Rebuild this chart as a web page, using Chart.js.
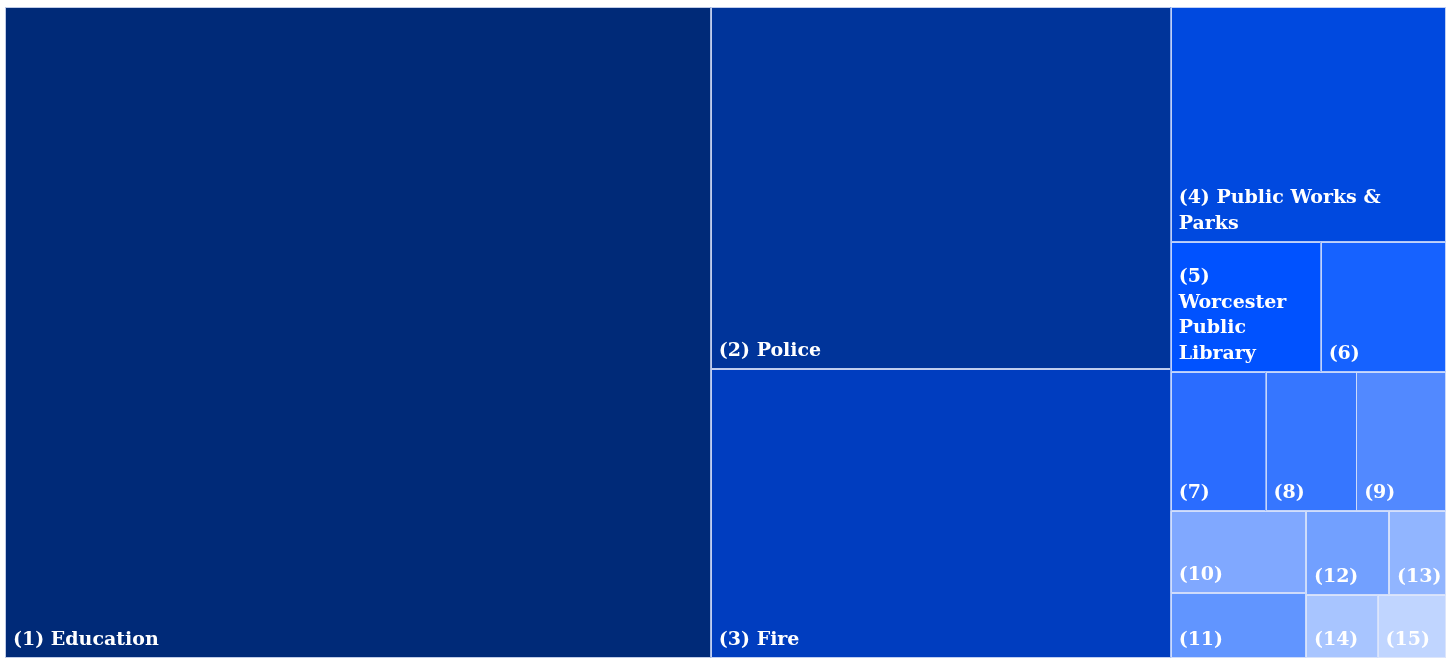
<!DOCTYPE html>
<html>
<head>
<meta charset="utf-8">
<title>Treemap</title>
<script src="https://cdn.jsdelivr.net/npm/chart.js@4.4.1/dist/chart.umd.min.js"></script>
<style>
  html, body { margin: 0; padding: 0; background: #fff; }
  #wrap { width: 1450px; height: 661px; }
</style>
</head>
<body>
<div id="wrap"><canvas id="chart"></canvas></div>
<script>
// items, already in rank order (largest first)
const ranks = [1, 2, 3, 4, 5, 6, 7, 8, 9, 10, 11, 12, 13, 14, 15];
const names = ['Education', 'Police', 'Fire', 'Public Works & Parks', 'Worcester Public Library',
  '', '', '', '', '', '', '', '', '', ''];
const values = [459.6, 166.5, 132.9, 64.7, 19.5, 16.3, 13.2, 12.6, 12.5, 11.1, 8.8, 7.0, 4.8, 4.5, 4.3];
const colors = ['#002a78', '#00349a', '#003dbf', '#0049df', '#0052ff', '#1662ff', '#2a6cff', '#3676ff',
  '#5289ff', '#80a8ff', '#6195ff', '#72a0ff', '#91b5ff', '#a8c5ff', '#c0d5ff'];

// ordered treemap (pivot by size), rects in the same units as w/h
function pivotLayout(idx, x, y, w, h, out) {
  if (!idx.length) return;
  if (idx.length === 1) {
    out[idx[0]] = { x, y, w, h };
    return;
  }
  const total = idx.reduce((s, i) => s + values[i], 0);
  const scale = w * h / total;
  const wide = w >= h;
  const p = idx[0];
  let best = Infinity, bestK = 0, sum = 0;
  for (let k = 0; k < idx.length; k++) {
    sum += values[idx[k]];
    const strip = sum * scale / (wide ? h : w);
    const len = values[p] * scale / strip;
    const r = Math.max(strip / len, len / strip);
    if (r < best) { best = r; bestK = k; }
  }
  let s = 0;
  for (let k = 0; k <= bestK; k++) s += values[idx[k]];
  const strip = s * scale / (wide ? h : w);
  const len = values[p] * scale / strip;
  const l2 = idx.slice(1, bestK + 1);
  const l3 = idx.slice(bestK + 1);
  if (wide) {
    out[p] = { x, y, w: strip, h: len };
    pivotLayout(l2, x, y + len, strip, h - len, out);
    pivotLayout(l3, x + strip, y, w - strip, h, out);
  } else {
    out[p] = { x, y, w: len, h: strip };
    pivotLayout(l2, x + len, y, w - len, strip, out);
    pivotLayout(l3, x, y + strip, w, h - strip, out);
  }
}

function wrapText(ctx, text, maxWidth) {
  const words = text.split(' ');
  const lines = [];
  let line = '';
  words.forEach(word => {
    const test = line ? line + ' ' + word : word;
    if (line && ctx.measureText(test).width > maxWidth) {
      lines.push(line);
      line = word;
    } else {
      line = test;
    }
  });
  if (line) lines.push(line);
  return lines;
}

const treemapPlugin = {
  id: 'treemapPlugin',
  afterDatasetsDraw(chart) {
    const ctx = chart.ctx;
    const area = chart.chartArea;
    const xs = chart.scales.x;
    const ys = chart.scales.y;
    const W = area.right - area.left;
    const H = area.bottom - area.top;

    const rects = [];
    pivotLayout(values.map((v, i) => i), 0, 0, W, H, rects);

    ctx.save();
    rects.forEach((r, i) => {
      // layout units -> scale values (0..100) -> pixels
      const left = xs.getPixelForValue(r.x / W * 100);
      const right = xs.getPixelForValue((r.x + r.w) / W * 100);
      const top = ys.getPixelForValue(r.y / H * 100);
      const bottom = ys.getPixelForValue((r.y + r.h) / H * 100);

      ctx.fillStyle = colors[i];
      ctx.fillRect(left, top, right - left, bottom - top);
      ctx.strokeStyle = 'rgba(225,232,250,0.85)';
      ctx.lineWidth = 1;
      ctx.strokeRect(Math.round(left) + 0.5, Math.round(top) + 0.5,
        Math.round(right - left) - 1, Math.round(bottom - top) - 1);

      const label = names[i] ? '(' + ranks[i] + ') ' + names[i] : '(' + ranks[i] + ')';
      ctx.font = 'bold 19px "DejaVu Serif"';
      ctx.fillStyle = '#ffffff';
      ctx.textAlign = 'left';
      ctx.textBaseline = 'alphabetic';
      const lines = wrapText(ctx, label, right - left - 18);
      const lineHeight = 25.5;
      lines.forEach((ln, j) => {
        const yy = bottom - 13 - (lines.length - 1 - j) * lineHeight;
        ctx.fillText(ln, left + 8, yy);
      });
    });
    ctx.restore();
  }
};

new Chart(document.getElementById('chart'), {
  type: 'scatter',
  data: {
    datasets: [{ data: [], pointRadius: 0 }]
  },
  options: {
    responsive: true,
    maintainAspectRatio: false,
    animation: false,
    layout: {
      padding: { left: 5, right: 4, top: 7, bottom: 3 }
    },
    scales: {
      x: { type: 'linear', min: 0, max: 100, display: false },
      y: { type: 'linear', min: 0, max: 100, reverse: true, display: false }
    },
    plugins: {
      legend: { display: false },
      tooltip: { enabled: false }
    }
  },
  plugins: [treemapPlugin]
});
</script>
</body>
</html>
